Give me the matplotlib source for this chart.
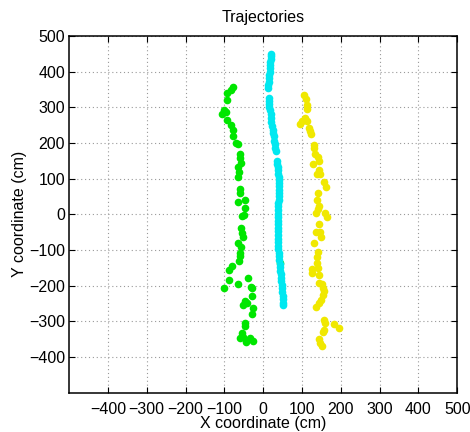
import matplotlib
matplotlib.use('Agg')
import matplotlib.pyplot as plt

plt.rcParams['font.family'] = ['Liberation Sans', 'DejaVu Sans']

# left person (green)
green_x = [-79, -83, -94, -92, -100, -106, -95, -94, -83, -77, -78, -70, -66, -61, -59,
           -56, -66, -63, -65, -59, -59, -64, -47, -47, -55, -49, -57, -55, -52, -64,
           -57, -61, -59, -62, -81, -87, -87, -66, -40, -100, -32, -28, -30, -46, -51,
           -42, -27, -28, -46, -48, -55, -52, -59, -34, -27, -44, 44]
green_y = [356, 348, 339, 320, 292, 281, 288, 264, 250, 236, 219, 201, 196, 169, 157,
           145, 132, 119, 105, 70, 59, 34, 40, 17, -4, -2, -39, -53, -63, -81,
           -91, -109, -117, -130, -144, -156, -185, -195, -179, -208, -204, -207, -230, -244, -253,
           -249, -263, -280, -305, -313, -334, -343, -348, -348, -354, -357, -136]

# middle person (cyan)
cyan_x = [21, 20, 19, 18, 18, 18, 17, 15, 14, 14, 13, 12, 14, 14, 15, 16, 18, 19, 21, 21,
          22, 24, 25, 27, 28, 30, 31, 32, 35, 36, 37, 38, 39, 40, 41, 41, 41, 41, 41, 40,
          40, 39, 39, 39, 39, 38, 38, 38, 38, 38, 38, 38, 38, 39, 39, 40, 40, 41, 42, 43,
          44, 45, 46, 47, 48, 48, 49, 50, 51, 51, 52]
cyan_y = [450, 443, 436, 428, 418, 409, 400, 390, 381, 372, 363, 355, 327, 318, 309, 300, 291, 282, 270, 259,
          248, 236, 227, 218, 206, 196, 186, 176, 150, 142, 133, 124, 114, 105, 96, 87, 78, 68, 59, 50,
          40, 31, 22, 12, 2, -8, -18, -28, -38, -48, -58, -68, -78, -88, -98, -108, -118, -128, -138, -148,
          -158, -168, -178, -188, -198, -208, -218, -228, -238, -248, -254]

# right person (yellow)
yellow_x = [104, 111, 113, 113, 108, 100, 95, 114, 119, 121, 123, 130, 131, 134, 140,
            143, 128, 143, 138, 147, 157, 162, 140, 138, 145, 140, 137, 160, 164, 145,
            137, 147, 150, 132, 141, 138, 138, 125, 125, 141, 143, 143, 151, 155, 157,
            154, 149, 143, 137, 157, 160, 183, 195, 157, 155, 145, 147, 151]
yellow_y = [334, 322, 306, 294, 269, 260, 252, 262, 241, 232, 225, 194, 185, 169, 160,
            150, 141, 124, 113, 113, 91, 76, 61, 40, 23, 14, 4, 3, -7, -27,
            -49, -49, -63, -80, -105, -121, -136, -154, -165, -151, -170, -193, -195, -207, -214,
            -226, -240, -249, -261, -296, -304, -307, -320, -324, -329, -350, -362, -369]

fig = plt.figure(figsize=(4.70, 4.32), dpi=100)
fig.set_facecolor('white')
ax = fig.add_axes([0.147, 0.091, 0.826, 0.826])

ms = 5.5
ax.plot(green_x, green_y, 'o', color='#00e600', markersize=ms, markeredgewidth=0)
ax.plot(cyan_x, cyan_y, 'o', color='#00e8f0', markersize=ms, markeredgewidth=0)
ax.plot(yellow_x, yellow_y, 'o', color='#f0e800', markersize=ms, markeredgewidth=0)

ax.set_xlim(-500, 500)
ax.set_ylim(-500, 500)
ax.set_xticks(range(-400, 501, 100))
ax.set_yticks(range(-400, 501, 100))
ax.grid(True, linestyle=(0, (1, 2.5)), color='#999999', linewidth=0.8)
ax.tick_params(direction='in', top=True, right=True, length=4, labelsize=11.5, pad=3)
ax.tick_params(axis='x', pad=7)
for sp in ax.spines.values():
    sp.set_linewidth(1.1)

ax.set_title('Trajectories', fontsize=11.5, pad=10)
ax.set_xlabel('X coordinate (cm)', fontsize=11.5, labelpad=-1)
ax.set_ylabel('Y coordinate (cm)', fontsize=11.5, labelpad=1)

plt.savefig('out.png', dpi=100)
